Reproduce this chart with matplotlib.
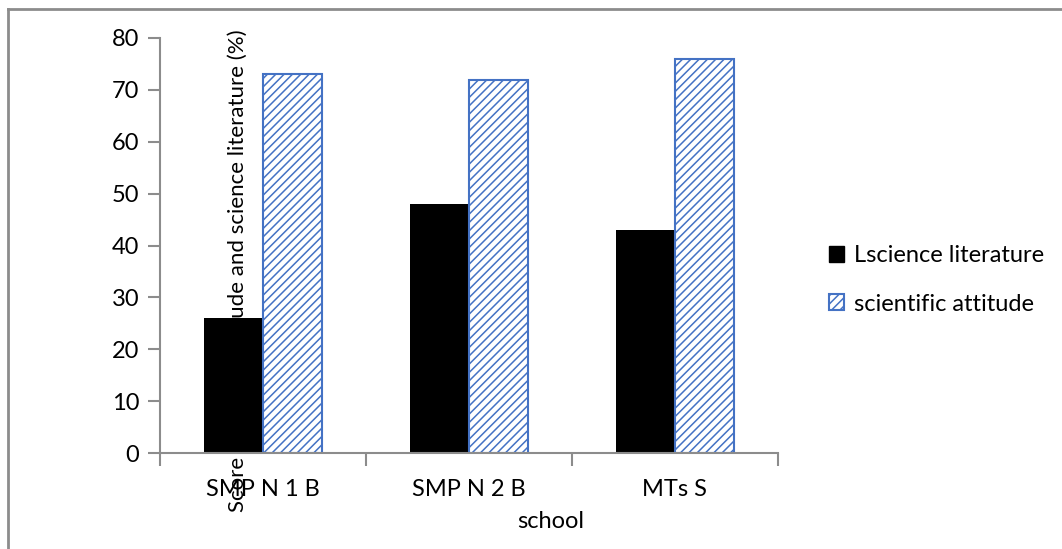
import matplotlib
matplotlib.use("Agg")
import matplotlib.pyplot as plt
from matplotlib.patches import Patch
from matplotlib.lines import Line2D
import numpy as np

# school scores (%)
schools = ["SMP N 1 B", "SMP N 2 B", "MTs S"]
literature = [26, 48, 43]
attitude = [73, 72, 76]
yticks = [0, 10, 20, 30, 40, 50, 60, 70, 80]

plt.rcParams['font.family'] = ['Lato', 'DejaVu Sans']
plt.rcParams['hatch.linewidth'] = 1.1
plt.rcParams['hatch.color'] = '#4472C4'

grey = '#8C8C8C'
blue = '#4472C4'
fs = 17

fig = plt.figure(figsize=(10.62, 5.49), dpi=100)
ax = fig.add_axes([160/1062, 1 - 453/549, 618/1062, 415/549])

x = np.arange(len(schools))
w = 0.286
ax.bar(x - w/2, literature, w, color='black', label='Lscience literature')
ax.bar(x + w/2, attitude, w, color='white', edgecolor=blue, linewidth=1.5,
       hatch='////', label='scientific attitude')

ax.set_xlim(-0.5, 2.5)
ax.set_ylim(0, 80)
ax.set_yticks(yticks)
ax.set_xticks(x)
ax.set_xticklabels(schools)
ax.set_xticks([-0.5, 0.5, 1.5, 2.5], minor=True)
ax.tick_params(axis='x', which='major', length=0, pad=19, labelsize=fs)
ax.tick_params(axis='x', which='minor', length=9, width=1.5, color=grey)
ax.tick_params(axis='y', length=9, width=1.5, color=grey, labelsize=fs, pad=6)

for s in ['top', 'right']:
    ax.spines[s].set_visible(False)
for s in ['left', 'bottom']:
    ax.spines[s].set_color(grey)
    ax.spines[s].set_linewidth(1.5)

# y title sits inside the plot area, over the first group
fig.text(238/1062, 1 - 271/549, 'Score scientific attitude and science literature (%)',
         rotation=90, ha='center', va='center', fontsize=16)
fig.text(551/1062, 1 - 522/549, 'school', ha='center', va='center', fontsize=fs)

handles = [Patch(facecolor='black', edgecolor='black'),
           Patch(facecolor='white', edgecolor=blue, hatch='////', linewidth=1.5)]
ax.legend(handles, ['Lscience literature', 'scientific attitude'],
          loc='center left', bbox_to_anchor=(829/1062, 1 - 280/549),
          bbox_transform=fig.transFigure, frameon=False, fontsize=fs,
          handlelength=0.65, handleheight=0.65, handletextpad=0.4,
          labelspacing=1.15, borderpad=0, borderaxespad=0)

# outer frame lines on left and top
fig.add_artist(Line2D([8/1062, 8/1062], [0, 1 - 9/549], color=grey, lw=2,
                      transform=fig.transFigure))
fig.add_artist(Line2D([8/1062, 1], [1 - 9/549, 1 - 9/549], color=grey, lw=2,
                      transform=fig.transFigure))

fig.savefig('out.png', dpi=100)
